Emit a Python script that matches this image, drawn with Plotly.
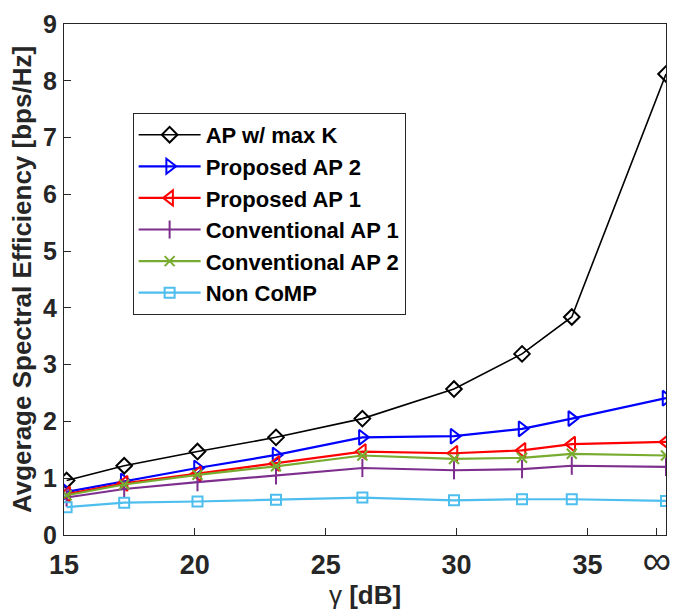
import plotly.graph_objects as go

x_vals = [15.1, 17.3, 20.1, 23.1, 26.4, 29.9, 32.5, 34.4, 38.0]
tick_vals = [15, 20, 25, 30, 35, 37.65]
tick_text = ["<b>15</b>", "<b>20</b>", "<b>25</b>", "<b>30</b>", "<b>35</b>",
             "<span style='font-size:40px'>∞</span>"]

ap_max_k = [0.96, 1.22, 1.47, 1.72, 2.05, 2.57, 3.19, 3.84, 8.12]
proposed_ap2 = [0.76, 0.95, 1.18, 1.41, 1.72, 1.74, 1.87, 2.05, 2.41]
proposed_ap1 = [0.72, 0.91, 1.08, 1.26, 1.47, 1.44, 1.49, 1.60, 1.64]
conventional_ap1 = [0.66, 0.81, 0.93, 1.05, 1.18, 1.14, 1.16, 1.22, 1.20]
conventional_ap2 = [0.70, 0.89, 1.06, 1.21, 1.40, 1.34, 1.36, 1.43, 1.40]
non_comp = [0.49, 0.57, 0.59, 0.62, 0.66, 0.61, 0.63, 0.63, 0.60]

series = [
    ("AP w/ max K", ap_max_k, "#000000", "diamond-open", 12, 1.6),
    ("Proposed AP 2", proposed_ap2, "#0000ff", "triangle-right-open", 13, 2.2),
    ("Proposed AP 1", proposed_ap1, "#ff0000", "triangle-left-open", 13, 2.2),
    ("Conventional AP 1", conventional_ap1, "#7e2f8e", "line-ns", 13, 2.2),
    ("Conventional AP 2", conventional_ap2, "#77ac30", "x-thin", 10, 2.2),
    ("Non CoMP", non_comp, "#4dbeee", "square-open", 10, 2.2),
]

fig = go.Figure()
for i, (name, vals, color, sym, size, lw) in enumerate(series):
    fig.add_trace(go.Scatter(
        x=x_vals, y=vals, name=name, mode="lines+markers",
        legendgroup="g%d" % i,
        line=dict(color=color, width=lw),
        marker=dict(symbol=sym, size=size, color=color,
                    line=dict(color=color, width=2)),
    ))

font_fam = "Liberation Sans, Arial, sans-serif"
fig.update_layout(
    width=681, height=613,
    margin=dict(l=64, r=10, t=16, b=76),
    paper_bgcolor="white", plot_bgcolor="white",
    font=dict(family=font_fam, color="#262626"),
    showlegend=True,
    legend=dict(
        x=0.114, y=0.826, xanchor="left", yanchor="top",
        bgcolor="white", bordercolor="#262626", borderwidth=1,
        font=dict(size=22, family=font_fam, color="#000000", weight="bold"),
        tracegroupgap=0, itemwidth=62,
    ),
    xaxis=dict(
        range=[15, 38], tickvals=tick_vals, ticktext=tick_text,
        ticks="inside", ticklen=7, tickcolor="#262626",
        showline=True, linecolor="#262626", linewidth=1, mirror=True,
        showgrid=False, zeroline=False,
        tickfont=dict(size=27, family=font_fam),
        ticklabelstandoff=6,
        title=dict(text="γ <b>[dB]</b>", font=dict(size=26, family=font_fam), standoff=2),
    ),
    yaxis=dict(
        range=[0, 9], dtick=1,
        ticks="inside", ticklen=7, tickcolor="#262626",
        showline=True, linecolor="#262626", linewidth=1, mirror=True,
        showgrid=False, zeroline=False,
        tickfont=dict(size=25, family=font_fam, weight="bold"),
        ticklabelstandoff=1,
        title=dict(text="Avgerage Spectral Efficiency [bps/Hz]",
                   font=dict(size=26, family=font_fam, weight="bold"), standoff=3),
    ),
)

fig.write_html("out.html")
